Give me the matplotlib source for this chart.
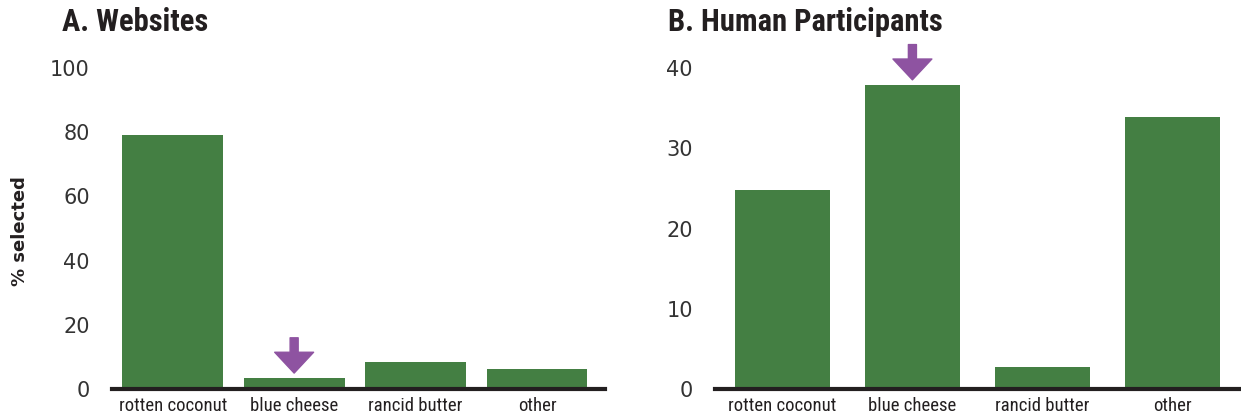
import matplotlib.pyplot as plt
from matplotlib import font_manager

categories = ['rotten coconut', 'blue cheese', 'rancid butter', 'other']
websites = [79.0, 3.4, 8.4, 6.2]
humans = [24.8, 37.9, 2.7, 33.9]
website_ticks = [0, 20, 40, 60, 80, 100]
human_ticks = [0, 10, 20, 30, 40]
highlight = 'blue cheese'

GREEN = '#447f43'
PURPLE = '#8e53a1'
DARK = '#231f20'

installed = {f.name for f in font_manager.fontManager.ttflist}
narrow = [n for n in ['Liberation Sans Narrow', 'DejaVu Sans Condensed', 'Roboto Condensed',
                      'Open Sans Condensed'] if n in installed]
NARROW = narrow[:1] + ['DejaVu Sans']
SHRINK = 1.0 if narrow else 0.85

W, H = 1241, 418
fig = plt.figure(figsize=(W / 100, H / 100), dpi=100)


def px_axes(x0, x1, y0, y1):
    # axes box given in pixel coords from the top-left corner
    return fig.add_axes([x0 / W, 1 - y1 / H, (x1 - x0) / W, (y1 - y0) / H])


def panel(ax, values, ticks, width, xlim):
    x = range(len(categories))
    ax.bar(x, values, width=width, color=GREEN, zorder=2)
    ax.set_xlim(*xlim)
    ax.set_ylim(0, ticks[-1])
    ax.set_yticks(ticks)
    ax.set_xticks(list(x))
    ax.set_xticklabels(categories, family=NARROW, fontsize=13.5 * SHRINK, color=DARK)
    for lab in ax.get_yticklabels():
        lab.set_fontsize(15)
        lab.set_color('#333333')
    ax.tick_params(axis='both', length=0)
    ax.tick_params(axis='y', pad=16)
    ax.tick_params(axis='x', pad=6)
    for side in ['top', 'right', 'left']:
        ax.spines[side].set_visible(False)
    ax.spines['bottom'].set_linewidth(3)
    ax.spines['bottom'].set_color(DARK)
    ax.spines['bottom'].set_zorder(3)
    i = categories.index(highlight)
    ax.annotate('', xy=(i, values[i]), xytext=(0, 29), textcoords='offset points',
                annotation_clip=False,
                arrowprops=dict(arrowstyle='simple,head_length=1.5,head_width=2.8,tail_width=0.58',
                                mutation_scale=10, color=PURPLE, shrinkA=0, shrinkB=3.6))


ax1 = px_axes(112, 605, 68, 389)
panel(ax1, websites, website_ticks, 0.83, (-0.5, 3.56))

ax2 = px_axes(715, 1241, 68, 389)
panel(ax2, humans, human_ticks, 0.73, (-0.52, 3.53))

fig.text(62 / W, 1 - 22 / H, 'A. Websites', fontsize=22 * SHRINK, fontweight='bold',
         family=NARROW, color=DARK, va='center', ha='left')
fig.text(668 / W, 1 - 22 / H, 'B. Human Participants', fontsize=22 * SHRINK, fontweight='bold',
         family=NARROW, color=DARK, va='center', ha='left')
fig.text(20 / W, 1 - 231 / H, '% selected', fontsize=13, fontweight='bold',
         family='DejaVu Sans', color=DARK, rotation=90, va='center', ha='center')

fig.savefig('out.png', dpi=100)
